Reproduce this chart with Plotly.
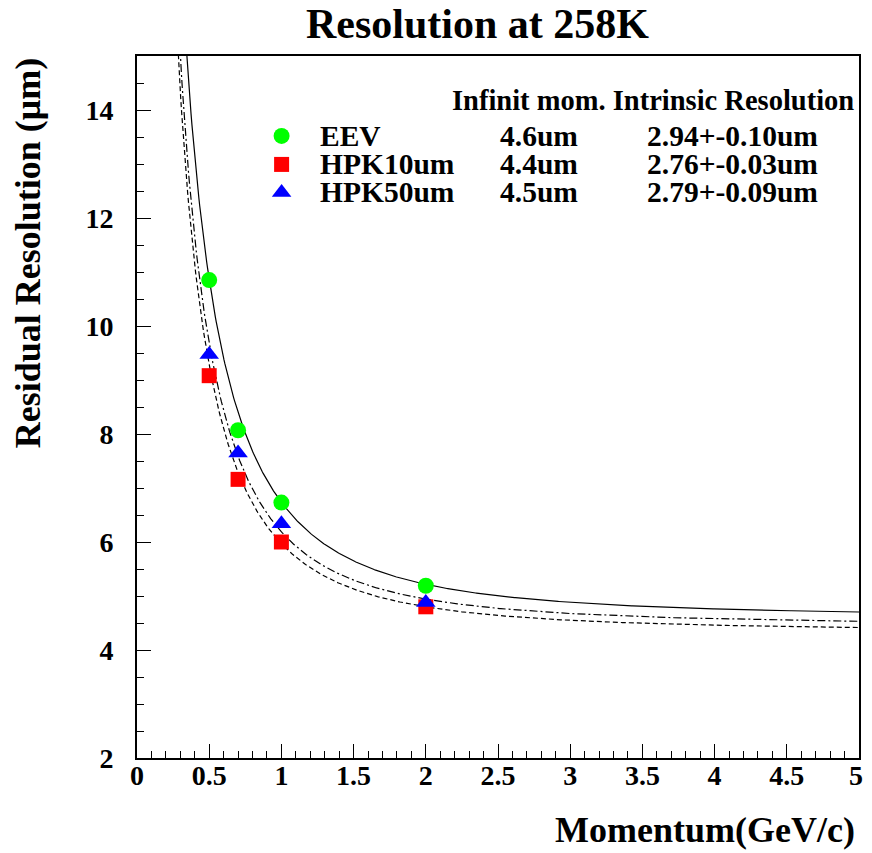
import numpy as np
import plotly.graph_objects as go

# ---------------- data ----------------
series_names = ["EEV", "HPK10um", "HPK50um"]
momentum = [0.5, 0.7, 1.0, 2.0]
eev_res = [10.85, 8.07, 6.73, 5.19]
hpk10_res = [9.08, 7.16, 6.00, 4.80]
hpk50_res = [9.47, 7.65, 6.34, 4.88]

# fit parameters: sigma(p) = sqrt(a^2 + (b/p)^2)
fit_a = [4.60, 4.34, 4.45]
fit_b = [4.92, 4.10, 4.30]

infinit_mom = ["4.6um", "4.4um", "4.5um"]
intrinsic = ["2.94+-0.10um", "2.76+-0.03um", "2.79+-0.09um"]

x_ticks = [0, 0.5, 1, 1.5, 2, 2.5, 3, 3.5, 4, 4.5, 5]
x_tick_labels = ["0", "0.5", "1", "1.5", "2", "2.5", "3", "3.5", "4", "4.5", "5"]
y_ticks = [2, 4, 6, 8, 10, 12, 14]

# ---------------- styles ----------------
OFF = 8  # page body margin
W, H = 872 - 2 * OFF, 853 - OFF
L, R, T, B = 137, 861, 56, 758.5  # plot frame in window pixels
FONT = "Liberation Serif"
colors = ["#00ff00", "#ff0000", "#0000ff"]
symbols = ["circle", "square", "triangle-up"]
msizes = [16, 15, 17]
dashes = ["solid", "5px,3px", "8px,3px,2px,3px"]


def px(x):
    return (x - L) / (R - L)


def py(y):
    return (B - y) / (B - T)


fig = go.Figure()

# fit curves
p_grid = np.linspace(0.2, 5.0, 800)
for a, b, d in zip(fit_a, fit_b, dashes):
    fig.add_trace(go.Scatter(
        x=p_grid, y=np.sqrt(a ** 2 + (b / p_grid) ** 2), mode="lines",
        line=dict(color="black", width=1.2, dash=d), showlegend=False,
        hoverinfo="skip"))

# data points
for name, vals, c, s, ms in zip(series_names, [eev_res, hpk10_res, hpk50_res],
                                colors, symbols, msizes):
    fig.add_trace(go.Scatter(
        x=momentum, y=vals, mode="markers", name=name,
        marker=dict(color=c, symbol=s, size=ms, line=dict(width=0)),
        showlegend=False))

# legend keys (overlay axes in paper units)
row_y = [136, 164.5, 192.5]
key_x = 282
for c, s, ms, yy in zip(colors, symbols, msizes, row_y):
    fig.add_trace(go.Scatter(
        x=[px(key_x)], y=[py(yy)], mode="markers", xaxis="x2", yaxis="y2",
        marker=dict(color=c, symbol=s, size=ms, line=dict(width=0)),
        showlegend=False, hoverinfo="skip"))

ann = []
hf = dict(family=FONT, size=28.5, color="black", weight="bold")
tf = dict(family=FONT, size=29.5, color="black", weight="bold")
ann.append(dict(text="Infinit mom. Intrinsic Resolution", x=px(858), y=py(101),
                xanchor="right", yanchor="middle", font=hf))
for name, im, ir, yy in zip(series_names, infinit_mom, intrinsic, row_y):
    ann.append(dict(text=name, x=px(319), y=py(yy), xanchor="left",
                    yanchor="middle", font=tf))
    ann.append(dict(text=im, x=px(499), y=py(yy), xanchor="left",
                    yanchor="middle", font=tf))
    ann.append(dict(text=ir, x=px(646), y=py(yy), xanchor="left",
                    yanchor="middle", font=tf))

# title and axis titles
ann.append(dict(text="Resolution at 258K", x=px(478), y=py(24),
                xanchor="center", yanchor="middle",
                font=dict(family=FONT, size=42, color="black", weight="bold")))
ann.append(dict(text="Momentum(GeV/c)", x=px(859), y=py(831),
                xanchor="right", yanchor="middle",
                font=dict(family=FONT, size=36, color="black", weight="bold")))
ann.append(dict(text="Residual Resolution (μm)", x=px(28), y=py(56),
                xanchor="center", yanchor="top", textangle=-90,
                font=dict(family=FONT, size=36, color="black", weight="bold")))
for a_ in ann:
    a_.update(xref="paper", yref="paper", showarrow=False)

tickfont = dict(family=FONT, size=28, color="black", weight="bold")

# last x tick label sits at the page edge: draw it as text on the x axis
ann.append(dict(text=x_tick_labels[-1], x=x_ticks[-1], xref="x", xshift=-3,
                y=py(776), yref="paper", xanchor="center", yanchor="middle",
                showarrow=False, font=tickfont))

fig.update_layout(
    width=W, height=H, autosize=False,
    margin=dict(l=L - OFF, r=W - (R - OFF), t=T - OFF, b=H - (B - OFF), pad=0),
    paper_bgcolor="white", plot_bgcolor="white",
    showlegend=False,
    annotations=ann,
    xaxis=dict(range=[0, 5], tickvals=x_ticks[:-1], ticktext=x_tick_labels[:-1],
               ticks="inside", ticklen=14, tickwidth=1, tickcolor="black",
               minor=dict(dtick=0.1, ticks="inside", ticklen=7, tickwidth=1,
                          tickcolor="black", showgrid=False),
               showline=True, linecolor="black", linewidth=2, mirror=True,
               showgrid=False, zeroline=False, tickfont=tickfont,
               ticklabelstandoff=-9),
    yaxis=dict(range=[2, 15], tickvals=y_ticks,
               ticks="inside", ticklen=14, tickwidth=1, tickcolor="black",
               minor=dict(dtick=0.5, ticks="inside", ticklen=7, tickwidth=1,
                          tickcolor="black", showgrid=False),
               showline=True, linecolor="black", linewidth=2, mirror=True,
               showgrid=False, zeroline=False, tickfont=tickfont,
               ticklabelstandoff=16),
    xaxis2=dict(range=[0, 1], overlaying="x", visible=False),
    yaxis2=dict(range=[0, 1], overlaying="y", visible=False),
)

fig.write_html("out.html")
